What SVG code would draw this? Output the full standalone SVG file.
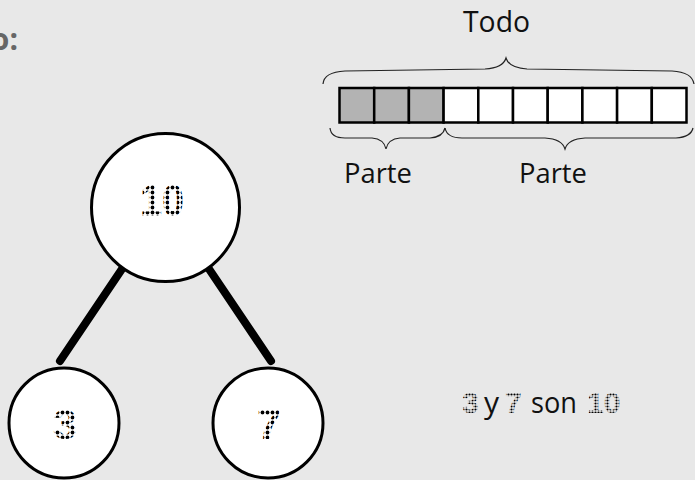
<svg xmlns="http://www.w3.org/2000/svg" width="695" height="480" viewBox="0 0 695 480">
<defs>
<pattern id="dots" width="5" height="5" patternUnits="userSpaceOnUse">
<circle cx="2.5" cy="2.5" r="1.9" fill="#000"/>
</pattern>
<pattern id="dots-s" width="3" height="3" patternUnits="userSpaceOnUse">
<circle cx="1.5" cy="1.5" r="1.1" fill="#000"/>
</pattern>
</defs>
<style>
.lbl{font-family:"Open Sans","Noto Sans",sans-serif;fill:#111;}
.dig{font-family:"Liberation Sans",sans-serif;font-weight:bold;fill:url(#dots);text-anchor:middle;}
.digs{font-family:"Liberation Sans",sans-serif;font-weight:bold;fill:url(#dots-s);}
.node{fill:#fff;stroke:#000;stroke-width:3;}
.cell{stroke:#000;stroke-width:2.5;}
.brace{fill:none;stroke:#222;stroke-width:1.2;}
</style>
<rect width="695" height="480" fill="#e8e8e8"/>
<text x="18" y="50" text-anchor="end" font-family="Open Sans,sans-serif" font-weight="bold" font-size="30" fill="#666">o:</text>
<g id="connectors">
<line x1="124" y1="266" x2="60" y2="361" stroke="#000" stroke-width="8" stroke-linecap="round"/>
<line x1="207" y1="266" x2="271" y2="361" stroke="#000" stroke-width="8" stroke-linecap="round"/>
</g>
<g id="node-10">
<circle class="node" cx="165.5" cy="207.5" r="74"/>
<text class="dig" x="162" y="216" font-size="45" textLength="44" lengthAdjust="spacingAndGlyphs">10</text>
</g>
<g id="node-3">
<circle class="node" cx="64" cy="423" r="55"/>
<text class="dig" x="65" y="439" font-size="43">3</text>
</g>
<g id="node-7">
<circle class="node" cx="268" cy="423" r="55"/>
<text class="dig" x="269" y="439" font-size="43">7</text>
</g>
<g id="bar">
<rect class="cell" x="339.5" y="88" width="34.7" height="34.5" fill="#b3b3b3"/>
<rect class="cell" x="374.2" y="88" width="34.7" height="34.5" fill="#b3b3b3"/>
<rect class="cell" x="408.9" y="88" width="34.7" height="34.5" fill="#b3b3b3"/>
<rect class="cell" x="443.6" y="88" width="34.7" height="34.5" fill="#fff"/>
<rect class="cell" x="478.3" y="88" width="34.7" height="34.5" fill="#fff"/>
<rect class="cell" x="513" y="88" width="34.7" height="34.5" fill="#fff"/>
<rect class="cell" x="547.7" y="88" width="34.7" height="34.5" fill="#fff"/>
<rect class="cell" x="582.4" y="88" width="34.7" height="34.5" fill="#fff"/>
<rect class="cell" x="617.1" y="88" width="34.7" height="34.5" fill="#fff"/>
<rect class="cell" x="651.8" y="88" width="34.7" height="34.5" fill="#fff"/>
</g>
<g id="braces">
<path class="brace" d="M323 84 Q324 72 345 71 L485 69 Q503 68 506 58 Q509 68 527 69 L672 71 Q692 72 694 84"/>
<path class="brace" d="M330 128 Q331 138 345 138 L372 138 Q384 139 386 149 Q388 139 400 138 L430 138 Q443 137 445 128"/>
<path class="brace" d="M445 128 Q447 138 462 138 L545 138 Q562 139 565 149 Q568 139 585 138 L676 138 Q691 137 693 128"/>
</g>
<text class="lbl" x="463" y="32" font-size="29" textLength="67" lengthAdjust="spacingAndGlyphs">Todo</text>
<text class="lbl" x="344" y="183" font-size="27" textLength="68" lengthAdjust="spacingAndGlyphs">Parte</text>
<text class="lbl" x="519" y="183" font-size="27" textLength="68" lengthAdjust="spacingAndGlyphs">Parte</text>
<g id="sentence">
<text class="digs" x="462" y="413" font-size="30">3</text>
<text class="lbl" x="484" y="413" font-size="30">y</text>
<text class="digs" x="505" y="413" font-size="30">7</text>
<text class="lbl" x="531" y="413" font-size="30" textLength="46" lengthAdjust="spacingAndGlyphs">son</text>
<text class="digs" x="587" y="413" font-size="30">10</text>
</g>
</svg>
